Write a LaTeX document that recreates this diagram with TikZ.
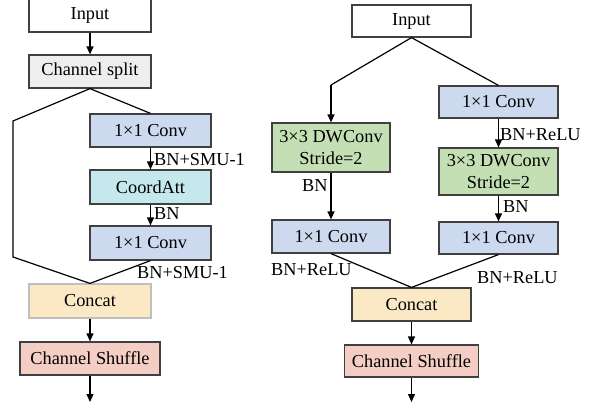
\documentclass[tikz,border=0pt]{standalone}
\usepackage{fontspec}
\setmainfont{Liberation Serif}
\usetikzlibrary{arrows.meta}
\definecolor{splitgray}{HTML}{EEEEEE}
\definecolor{convblue}{HTML}{CDD9EE}
\definecolor{attcyan}{HTML}{C5E8EC}
\definecolor{catwheat}{HTML}{FBE9C6}
\definecolor{shufpink}{HTML}{F4CDC4}
\definecolor{dwgreen}{HTML}{C5DFB5}
\definecolor{edge}{HTML}{404040}
\tikzset{
  blk/.style={draw=edge, line width=1.2pt, inner sep=0pt, align=center,
    font=\fontsize{18.3}{22}\selectfont},
  lbl/.style={inner sep=0pt, anchor=west, font=\fontsize{18.3}{22}\selectfont},
  wire/.style={line width=1.2pt, black},
  flow/.style={wire, -{Triangle[width=7pt,length=8pt]}},
}
\begin{document}
\begin{tikzpicture}[x=1pt,y=-1pt]
\useasboundingbox (0,0) rectangle (596,407);

% ---- left block: basic unit ----
\node[blk, fill=white, minimum width=122pt, minimum height=34pt] (inL) at (90,15) {Input};
\node[blk, fill=splitgray, minimum width=122pt, minimum height=33pt] (split) at (90,71.5) {Channel split};
\node[blk, fill=convblue, minimum width=121pt, minimum height=33pt] (c1) at (150.5,130.5) {1×1 Conv};
\node[blk, fill=attcyan, minimum width=121pt, minimum height=34pt] (ca) at (150.5,187) {CoordAtt};
\node[blk, fill=convblue, minimum width=121pt, minimum height=34pt] (c2) at (150.5,243) {1×1 Conv};
\node[blk, draw=black!25, fill=catwheat, minimum width=122pt, minimum height=34pt] (catL) at (90,301) {Concat};
\node[blk, fill=shufpink, minimum width=140pt, minimum height=33pt] (shL) at (90,358.5) {Channel Shuffle};
\coordinate (outL) at (90,402);
\coordinate (kL1) at (13,121);
\coordinate (kL2) at (13,257);

\draw[flow] (inL) -- (split);
\draw[wire] (split.south) -- (c1.north);
\draw[wire] (split.south) -- (kL1) -- (kL2) -- (catL.north);
\draw[flow] (c1) -- (ca);
\draw[flow] (ca) -- (c2);
\draw[wire] (c2.south) -- (catL.north);
\draw[flow] (catL) -- (shL);
\draw[flow] (shL) -- (outL);

\node[lbl] at (154,160) {BN+SMU-1};
\node[lbl] at (154,214) {BN};
\node[lbl] at (137,273) {BN+SMU-1};

% ---- right block: down-sampling unit ----
\node[blk, fill=white, minimum width=119pt, minimum height=32pt] (inR) at (411.5,21) {Input};
\node[blk, fill=dwgreen, minimum width=118pt, minimum height=49pt] (dwL) at (331,147.5) {3×3 DWConv\\Stride=2};
\node[blk, fill=convblue, minimum width=119pt, minimum height=32pt] (cR1) at (498.5,102) {1×1 Conv};
\node[blk, fill=dwgreen, minimum width=119pt, minimum height=47pt] (dwR) at (498.5,171.5) {3×3 DWConv\\Stride=2};
\node[blk, fill=convblue, minimum width=118pt, minimum height=33pt] (cL2) at (331,236.5) {1×1 Conv};
\node[blk, fill=convblue, minimum width=119pt, minimum height=32pt] (cR2) at (498.5,238) {1×1 Conv};
\node[blk, fill=catwheat, minimum width=119pt, minimum height=33pt] (catR) at (411.5,304.5) {Concat};
\node[blk, fill=shufpink, minimum width=134pt, minimum height=32pt] (shR) at (411.5,361) {Channel Shuffle};
\coordinate (outR) at (411.5,402);
\coordinate (kR) at (331,85);

\draw[wire] (inR.south) -- (kR);
\draw[flow] (kR) -- (dwL.north);
\draw[wire] (inR.south) -- (cR1.north);
\draw[flow] (cR1) -- (dwR);
\draw[flow] (dwL) -- (cL2);
\draw[flow] (dwR) -- (cR2);
\draw[wire] (cL2.south) -- (catR.north);
\draw[wire] (cR2.south) -- (catR.north);
\draw[flow] (catR) -- (shR);
\draw[flow] (shR) -- (outR);

\node[lbl] at (500,135) {BN+ReLU};
\node[lbl] at (302,186) {BN};
\node[lbl] at (503,207) {BN};
\node[lbl] at (271,270) {BN+ReLU};
\node[lbl] at (477,278) {BN+ReLU};
\end{tikzpicture}
\end{document}
